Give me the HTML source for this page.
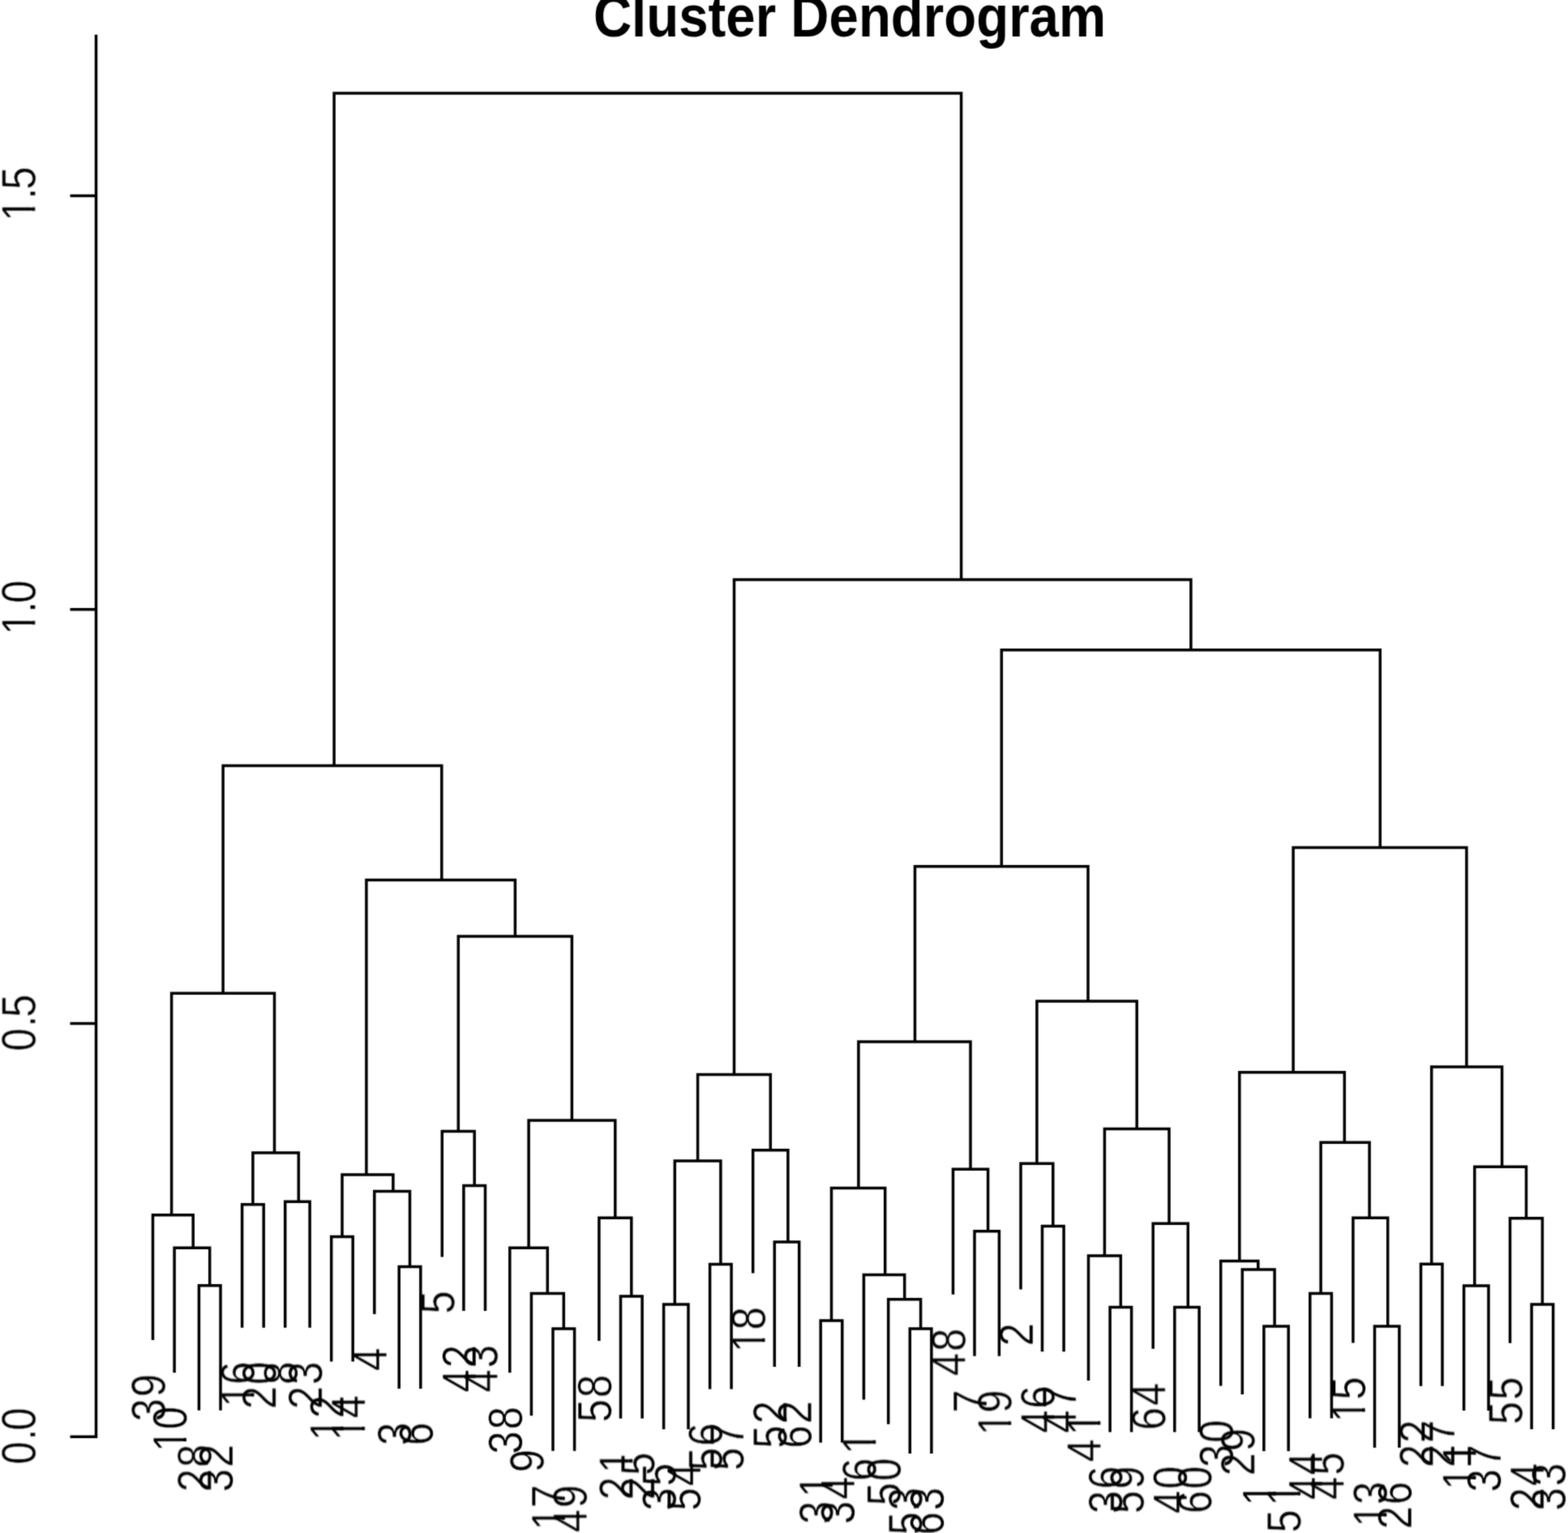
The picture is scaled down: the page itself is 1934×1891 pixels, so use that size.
<!DOCTYPE html>
<html lang="en"><head><meta charset="utf-8"><title>Cluster Dendrogram</title>
<style>
html,body{margin:0;padding:0;background:#fff;}
body{width:1934px;height:1891px;overflow:hidden;}
svg{display:block;}
.ln{fill:none;stroke:#000;stroke-width:3.50;stroke-linejoin:miter;stroke-linecap:butt;}
text{font-family:"Liberation Sans",Arial,Helvetica,sans-serif;fill:#000;}
.lb text,.ax text{font-size:53.00px;stroke:#fff;stroke-width:0.50px;mix-blend-mode:multiply;}
.tt{font-size:65.40px;font-weight:bold;text-anchor:middle;}
</style></head><body>
<svg width="1934" height="1891" viewBox="0 0 1934 1891">
<defs><filter id="soft" x="0" y="0" width="1934" height="1891" filterUnits="userSpaceOnUse" color-interpolation-filters="sRGB"><feConvolveMatrix order="3" kernelMatrix="1 4 1 4 16 4 1 4 1" divisor="36" edgeMode="duplicate" preserveAlpha="true"/></filter>
<clipPath id="c0" clipPathUnits="userSpaceOnUse"><rect x="-81.21" y="-70" width="87.21" height="64.72"/><rect x="-57.78" y="-5.77" width="4.52" height="6.77"/><rect x="-42.04" y="-5.77" width="27.30" height="9.27"/><rect x="-29.51" y="-5.77" width="27.30" height="9.27"/></clipPath>
<clipPath id="c1" clipPathUnits="userSpaceOnUse"><rect x="-69.33" y="-70" width="75.33" height="64.72"/><rect x="-45.90" y="-5.77" width="4.52" height="6.77"/><rect x="-29.51" y="-5.77" width="27.30" height="9.27"/></clipPath>
<clipPath id="c2" clipPathUnits="userSpaceOnUse"><rect x="-69.33" y="-70" width="75.33" height="64.72"/><rect x="-61.18" y="-5.77" width="27.30" height="9.27"/><rect x="-14.24" y="-5.77" width="4.52" height="6.77"/></clipPath>
<clipPath id="c3" clipPathUnits="userSpaceOnUse"><rect x="-37.67" y="-70" width="43.67" height="64.72"/><rect x="-14.24" y="-5.77" width="4.52" height="6.77"/></clipPath>
<clipPath id="c4" clipPathUnits="userSpaceOnUse"><rect x="-69.33" y="-70" width="75.33" height="64.72"/><rect x="-45.90" y="-5.77" width="4.52" height="6.77"/><rect x="-14.24" y="-5.77" width="4.52" height="6.77"/></clipPath>
</defs>
<g filter="url(#soft)">
<rect x="0" y="0" width="1934" height="1891" fill="#fff"/>
<text class="tt" transform="translate(1048.0 44.8) scale(1 1.100)">Cluster Dendrogram</text>
<g class="ln">
<path d="M118.5 42.8V1774.0"/>
<path d="M86.5 1772.3H118.5"/>
<path d="M86.5 1262.5H118.5"/>
<path d="M86.5 751.8H118.5"/>
<path d="M86.5 241.6H118.5"/>
</g>
<g class="ax">
<text transform="translate(43.6 1735.3) rotate(-90) scale(0.960 1.120)" x="-74.11 -43.10 -30.57">0.0</text>
<text transform="translate(43.6 1225.5) rotate(-90) scale(0.960 1.120)" x="-74.11 -43.10 -30.57">0.5</text>
<text transform="translate(43.6 714.8) rotate(-90) scale(0.960 1.120)" x="-71.18 -43.10 -30.57" clip-path="url(#c0)">1.0</text>
<text transform="translate(43.6 204.6) rotate(-90) scale(0.960 1.120)" x="-71.18 -43.10 -30.57" clip-path="url(#c0)">1.5</text>
</g>
<g class="ln">
<path d="M245.4 1739.8V1585.8H272.0V1739.8"/>
<path d="M215.1 1693.2V1539.2H258.7V1585.8"/>
<path d="M188.5 1653.0V1498.8H238.2V1539.2"/>
<path d="M298.6 1637.8V1485.8H325.2V1637.8"/>
<path d="M351.7 1637.8V1482.3H382.1V1637.8"/>
<path d="M311.9 1485.8V1422.0H368.3V1482.3"/>
<path d="M211.6 1498.8V1225.2H338.5V1422.0"/>
<path d="M408.7 1679.4V1525.4H435.2V1679.4"/>
<path d="M492.2 1712.9V1562.5H518.8V1712.9"/>
<path d="M461.8 1621.0V1469.4H505.5V1562.5"/>
<path d="M422.0 1525.4V1449.0H484.9V1469.4"/>
<path d="M571.9 1617.1V1462.5H598.5V1617.1"/>
<path d="M545.3 1550.6V1395.4H585.2V1462.5"/>
<path d="M682.0 1789.8V1639.0H708.6V1789.8"/>
<path d="M655.4 1746.2V1595.5H695.3V1639.0"/>
<path d="M628.8 1693.2V1539.2H675.3V1595.5"/>
<path d="M765.5 1749.7V1599.0H792.1V1749.7"/>
<path d="M738.9 1653.9V1502.3H778.8V1599.0"/>
<path d="M652.1 1539.2V1382.0H758.8V1502.3"/>
<path d="M565.3 1395.4V1155.0H705.4V1382.0"/>
<path d="M451.9 1449.0V1085.6H635.4V1155.0"/>
<path d="M275.1 1225.2V944.6H544.8V1085.6"/>
<path d="M818.6 1763.0V1609.0H849.0V1763.0"/>
<path d="M875.6 1713.5V1559.5H902.1V1713.5"/>
<path d="M832.3 1609.0V1432.0H888.9V1559.5"/>
<path d="M955.3 1686.1V1532.1H985.7V1686.1"/>
<path d="M928.7 1570.4V1418.8H971.9V1532.1"/>
<path d="M860.6 1432.0V1325.4H950.3V1418.8"/>
<path d="M1012.2 1779.5V1629.0H1038.8V1779.5"/>
<path d="M1122.3 1792.9V1638.9H1148.9V1792.9"/>
<path d="M1095.7 1756.7V1602.7H1135.6V1638.9"/>
<path d="M1065.4 1726.5V1572.5H1115.7V1602.7"/>
<path d="M1025.5 1629.0V1465.6H1091.7V1572.5"/>
<path d="M1202.0 1672.8V1518.8H1232.4V1672.8"/>
<path d="M1175.5 1596.8V1442.2H1218.6V1518.8"/>
<path d="M1058.9 1465.6V1285.0H1197.0V1442.2"/>
<path d="M1285.5 1667.3V1512.5H1312.1V1667.3"/>
<path d="M1259.0 1590.4V1435.3H1298.8V1512.5"/>
<path d="M1369.1 1766.6V1612.6H1395.6V1766.6"/>
<path d="M1342.5 1703.0V1549.0H1382.3V1612.6"/>
<path d="M1448.8 1766.6V1612.6H1479.1V1766.6"/>
<path d="M1422.2 1663.8V1509.2H1465.3V1612.6"/>
<path d="M1362.4 1549.0V1392.6H1442.0V1509.2"/>
<path d="M1278.9 1435.3V1235.0H1402.2V1392.6"/>
<path d="M1128.5 1285.0V1068.8H1342.0V1235.0"/>
<path d="M1558.9 1790.1V1636.1H1589.2V1790.1"/>
<path d="M1532.3 1720.0V1566.0H1572.1V1636.1"/>
<path d="M1505.7 1709.6V1555.6H1551.8V1566.0"/>
<path d="M1615.8 1749.5V1595.5H1642.4V1749.5"/>
<path d="M1695.5 1785.8V1636.1H1725.9V1785.8"/>
<path d="M1668.9 1656.6V1502.3H1711.7V1636.1"/>
<path d="M1629.1 1595.5V1409.3H1689.1V1502.3"/>
<path d="M1528.8 1555.6V1322.8H1658.3V1409.3"/>
<path d="M1752.5 1709.7V1559.3H1779.0V1709.7"/>
<path d="M1805.6 1740.0V1586.0H1836.0V1740.0"/>
<path d="M1889.1 1762.9V1608.9H1915.7V1762.9"/>
<path d="M1862.5 1656.7V1502.7H1902.4V1608.9"/>
<path d="M1818.8 1586.0V1439.2H1882.5V1502.7"/>
<path d="M1765.7 1559.3V1316.0H1852.6V1439.2"/>
<path d="M1595.1 1322.8V1045.6H1808.9V1316.0"/>
<path d="M1235.3 1068.8V801.7H1702.3V1045.6"/>
<path d="M905.5 1325.4V715.1H1468.9V801.7"/>
<path d="M412.1 944.6V114.9H1185.6V715.1"/>
</g>
<g class="lb">
<text transform="translate(203.6 1693.8) rotate(-90) scale(0.960 1.120)" x="-62.24 -30.57">39</text>
<text transform="translate(230.2 1734.0) rotate(-90) scale(0.960 1.120)" x="-59.31 -30.57" clip-path="url(#c1)">10</text>
<text transform="translate(260.5 1780.6) rotate(-90) scale(0.960 1.120)" x="-62.24 -30.57">28</text>
<text transform="translate(287.1 1780.6) rotate(-90) scale(0.960 1.120)" x="-62.24 -30.57">32</text>
<text transform="translate(313.7 1678.6) rotate(-90) scale(0.960 1.120)" x="-59.31 -30.57" clip-path="url(#c1)">16</text>
<text transform="translate(340.3 1678.6) rotate(-90) scale(0.960 1.120)" x="-62.24 -30.57">20</text>
<text transform="translate(366.8 1678.6) rotate(-90) scale(0.960 1.120)" x="-30.57">8</text>
<text transform="translate(397.2 1678.6) rotate(-90) scale(0.960 1.120)" x="-62.24 -30.57">23</text>
<text transform="translate(423.8 1720.2) rotate(-90) scale(0.960 1.120)" x="-59.31 -30.57" clip-path="url(#c1)">12</text>
<text transform="translate(450.3 1720.2) rotate(-90) scale(0.960 1.120)" x="-59.31 -30.57" clip-path="url(#c1)">14</text>
<text transform="translate(476.9 1661.8) rotate(-90) scale(0.960 1.120)" x="-30.57">4</text>
<text transform="translate(507.3 1753.7) rotate(-90) scale(0.960 1.120)" x="-30.57">3</text>
<text transform="translate(533.9 1753.7) rotate(-90) scale(0.960 1.120)" x="-30.57">6</text>
<text transform="translate(560.4 1591.4) rotate(-90) scale(0.960 1.120)" x="-30.57">5</text>
<text transform="translate(587.0 1657.9) rotate(-90) scale(0.960 1.120)" x="-62.24 -30.57">42</text>
<text transform="translate(613.6 1657.9) rotate(-90) scale(0.960 1.120)" x="-62.24 -30.57">43</text>
<text transform="translate(643.9 1734.0) rotate(-90) scale(0.960 1.120)" x="-62.24 -30.57">38</text>
<text transform="translate(670.5 1787.0) rotate(-90) scale(0.960 1.120)" x="-30.57">9</text>
<text transform="translate(697.1 1830.6) rotate(-90) scale(0.960 1.120)" x="-59.31 -30.57" clip-path="url(#c1)">17</text>
<text transform="translate(723.7 1830.6) rotate(-90) scale(0.960 1.120)" x="-62.24 -30.57">49</text>
<text transform="translate(754.0 1694.7) rotate(-90) scale(0.960 1.120)" x="-62.24 -30.57">58</text>
<text transform="translate(780.6 1790.5) rotate(-90) scale(0.960 1.120)" x="-62.24 -27.64" clip-path="url(#c2)">21</text>
<text transform="translate(807.2 1790.5) rotate(-90) scale(0.960 1.120)" x="-62.24 -30.57">25</text>
<text transform="translate(833.7 1803.8) rotate(-90) scale(0.960 1.120)" x="-62.24 -30.57">35</text>
<text transform="translate(864.1 1803.8) rotate(-90) scale(0.960 1.120)" x="-62.24 -30.57">54</text>
<text transform="translate(890.7 1754.3) rotate(-90) scale(0.960 1.120)" x="-62.24 -30.57">56</text>
<text transform="translate(917.2 1754.3) rotate(-90) scale(0.960 1.120)" x="-62.24 -30.57">57</text>
<text transform="translate(943.8 1611.2) rotate(-90) scale(0.960 1.120)" x="-59.31 -30.57" clip-path="url(#c1)">18</text>
<text transform="translate(970.4 1726.9) rotate(-90) scale(0.960 1.120)" x="-62.24 -30.57">52</text>
<text transform="translate(1000.8 1726.9) rotate(-90) scale(0.960 1.120)" x="-62.24 -30.57">62</text>
<text transform="translate(1027.3 1820.3) rotate(-90) scale(0.960 1.120)" x="-62.24 -27.64" clip-path="url(#c2)">31</text>
<text transform="translate(1053.9 1820.3) rotate(-90) scale(0.960 1.120)" x="-62.24 -30.57">34</text>
<text transform="translate(1080.5 1767.3) rotate(-90) scale(0.960 1.120)" x="-62.24 -27.64" clip-path="url(#c2)">61</text>
<text transform="translate(1110.8 1797.5) rotate(-90) scale(0.960 1.120)" x="-62.24 -30.57">50</text>
<text transform="translate(1137.4 1833.7) rotate(-90) scale(0.960 1.120)" x="-62.24 -30.57">53</text>
<text transform="translate(1164.0 1833.7) rotate(-90) scale(0.960 1.120)" x="-62.24 -30.57">63</text>
<text transform="translate(1190.6 1637.6) rotate(-90) scale(0.960 1.120)" x="-62.24 -30.57">48</text>
<text transform="translate(1217.1 1713.6) rotate(-90) scale(0.960 1.120)" x="-30.57">7</text>
<text transform="translate(1247.5 1713.6) rotate(-90) scale(0.960 1.120)" x="-59.31 -30.57" clip-path="url(#c1)">19</text>
<text transform="translate(1274.1 1631.2) rotate(-90) scale(0.960 1.120)" x="-30.57">2</text>
<text transform="translate(1300.6 1708.1) rotate(-90) scale(0.960 1.120)" x="-62.24 -30.57">46</text>
<text transform="translate(1327.2 1708.1) rotate(-90) scale(0.960 1.120)" x="-62.24 -30.57">47</text>
<text transform="translate(1357.6 1743.8) rotate(-90) scale(0.960 1.120)" x="-62.24 -27.64" clip-path="url(#c2)">41</text>
<text transform="translate(1384.2 1807.4) rotate(-90) scale(0.960 1.120)" x="-62.24 -30.57">36</text>
<text transform="translate(1410.7 1807.4) rotate(-90) scale(0.960 1.120)" x="-62.24 -30.57">59</text>
<text transform="translate(1437.3 1704.6) rotate(-90) scale(0.960 1.120)" x="-62.24 -30.57">64</text>
<text transform="translate(1463.9 1807.4) rotate(-90) scale(0.960 1.120)" x="-62.24 -30.57">40</text>
<text transform="translate(1494.2 1807.4) rotate(-90) scale(0.960 1.120)" x="-62.24 -30.57">60</text>
<text transform="translate(1520.8 1750.4) rotate(-90) scale(0.960 1.120)" x="-62.24 -30.57">30</text>
<text transform="translate(1547.4 1760.8) rotate(-90) scale(0.960 1.120)" x="-62.24 -30.57">29</text>
<text transform="translate(1574.0 1830.9) rotate(-90) scale(0.960 1.120)" x="-27.64" clip-path="url(#c3)">1</text>
<text transform="translate(1604.3 1830.9) rotate(-90) scale(0.960 1.120)" x="-62.24 -27.64" clip-path="url(#c2)">51</text>
<text transform="translate(1630.9 1790.3) rotate(-90) scale(0.960 1.120)" x="-62.24 -30.57">44</text>
<text transform="translate(1657.5 1790.3) rotate(-90) scale(0.960 1.120)" x="-62.24 -30.57">45</text>
<text transform="translate(1684.0 1697.4) rotate(-90) scale(0.960 1.120)" x="-59.31 -30.57" clip-path="url(#c1)">15</text>
<text transform="translate(1710.6 1826.6) rotate(-90) scale(0.960 1.120)" x="-59.31 -30.57" clip-path="url(#c1)">13</text>
<text transform="translate(1741.0 1826.6) rotate(-90) scale(0.960 1.120)" x="-62.24 -30.57">26</text>
<text transform="translate(1767.6 1750.5) rotate(-90) scale(0.960 1.120)" x="-62.24 -30.57">22</text>
<text transform="translate(1794.1 1750.5) rotate(-90) scale(0.960 1.120)" x="-62.24 -30.57">27</text>
<text transform="translate(1820.7 1780.8) rotate(-90) scale(0.960 1.120)" x="-59.31 -27.64" clip-path="url(#c4)">11</text>
<text transform="translate(1851.1 1780.8) rotate(-90) scale(0.960 1.120)" x="-62.24 -30.57">37</text>
<text transform="translate(1877.6 1697.5) rotate(-90) scale(0.960 1.120)" x="-62.24 -30.57">55</text>
<text transform="translate(1904.2 1803.7) rotate(-90) scale(0.960 1.120)" x="-62.24 -30.57">24</text>
<text transform="translate(1930.8 1803.7) rotate(-90) scale(0.960 1.120)" x="-62.24 -30.57">33</text>
</g>
</g>
</svg></body></html>
